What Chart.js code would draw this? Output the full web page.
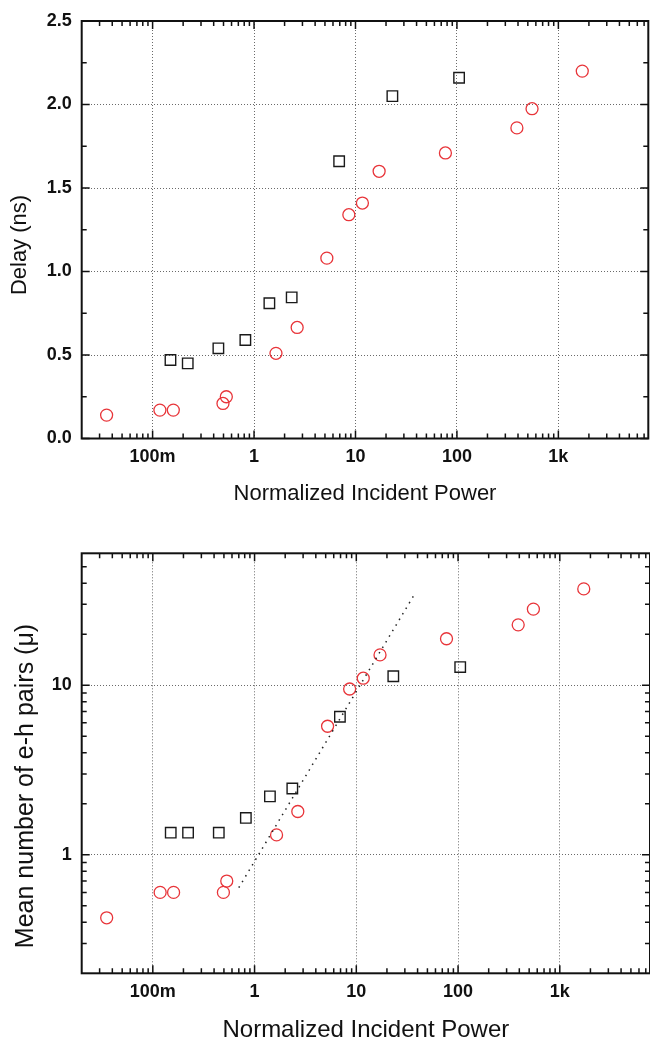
<!DOCTYPE html>
<html>
<head>
<meta charset="utf-8">
<script src="https://cdn.jsdelivr.net/npm/chart.js@4/dist/chart.umd.min.js"></script>
<style>
  html, body { margin: 0; padding: 0; background: #fff; overflow: hidden; }
  #wrap { position: relative; width: 650px; height: 1042px; }
  canvas { position: absolute; left: 0; }
  #delay { top: 0; }
  #pairs { top: 510px; }
</style>
</head>
<body>
<div id="wrap">
  <canvas id="delay" width="650" height="510"></canvas>
  <canvas id="pairs" width="650" height="532"></canvas>
</div>
<script>
// black open squares
const squarePower = [0.15, 0.222, 0.445, 0.821, 1.416, 2.35, 6.9, 23.1, 105];
const squareDelay = [0.47, 0.45, 0.54, 0.59, 0.81, 0.845, 1.66, 2.05, 2.16];
const squarePairs = [1.35, 1.35, 1.35, 1.65, 2.21, 2.46, 6.52, 11.3, 12.8];

// red open circles
const circlePower = [0.0352, 0.118, 0.16, 0.494, 0.533, 1.645, 2.66, 5.22, 8.6, 11.7, 17.1, 77, 390, 550, 1720];
const circleDelay = [0.14, 0.17, 0.17, 0.21, 0.25, 0.51, 0.665, 1.08, 1.34, 1.41, 1.6, 1.71, 1.86, 1.975, 2.2];
const circlePairs = [0.425, 0.6, 0.6, 0.6, 0.7, 1.31, 1.8, 5.73, 9.5, 11.0, 15.1, 18.8, 22.7, 28.1, 37.0];

// dotted guide in the lower panel
const fitPower = [0.7, 38];
const fitPairs = [0.64, 35];

// axes
const powerTicks = [0.1, 1, 10, 100, 1000];
const powerLabels = ['100m', '1', '10', '100', '1k'];
const delayTicks = [0, 0.5, 1, 1.5, 2, 2.5];
const pairsTicks = [1, 10];

Chart.defaults.font.family = '"Liberation Sans", Arial, Helvetica, sans-serif';
Chart.defaults.color = '#111';

const zip = (xs, ys) => xs.map((x, i) => ({ x, y: ys[i] }));

const logMinor = (min, max) => {
  const out = [];
  for (let d = Math.floor(Math.log10(min)); d <= Math.ceil(Math.log10(max)); d++) {
    for (let m = 2; m <= 9; m++) {
      const v = m * Math.pow(10, d);
      if (v > min && v < max) out.push(v);
    }
  }
  return out;
};

// frame + inward ticks on all four sides
const frame = {
  id: 'frame',
  afterDraw(chart) {
    const { ctx, chartArea: a, scales: { x, y } } = chart;
    const majorLen = 8;
    const minorLen = 5;
    const yMinor = y.type === 'logarithmic'
      ? logMinor(y.min, y.max)
      : [0.25, 0.75, 1.25, 1.75, 2.25];
    ctx.save();
    ctx.strokeStyle = '#111';
    ctx.lineWidth = 1.5;
    ctx.beginPath();
    const xTick = (v, len) => {
      const px = x.getPixelForValue(v);
      ctx.moveTo(px, a.bottom); ctx.lineTo(px, a.bottom - len);
      ctx.moveTo(px, a.top); ctx.lineTo(px, a.top + len);
    };
    const yTick = (v, len) => {
      const py = y.getPixelForValue(v);
      ctx.moveTo(a.left, py); ctx.lineTo(a.left + len, py);
      ctx.moveTo(a.right, py); ctx.lineTo(a.right - len, py);
    };
    x.ticks.forEach(t => xTick(t.value, majorLen));
    logMinor(x.min, x.max).forEach(v => xTick(v, minorLen));
    y.ticks.forEach(t => yTick(t.value, majorLen));
    yMinor.forEach(v => yTick(v, minorLen));
    ctx.stroke();
    ctx.lineWidth = 2;
    ctx.strokeRect(a.left, a.top, a.right - a.left, a.bottom - a.top);
    ctx.restore();
  },
};

// rotated y title, placed by hand like the original
const sideTitle = {
  id: 'sideTitle',
  afterDraw(chart, args, o) {
    const { ctx } = chart;
    ctx.save();
    ctx.translate(o.x, o.y);
    ctx.rotate(-Math.PI / 2);
    ctx.font = `${o.size}px "Liberation Sans", Arial, sans-serif`;
    ctx.fillStyle = '#111';
    ctx.textAlign = 'center';
    ctx.textBaseline = 'middle';
    ctx.fillText(o.text, 0, 0);
    ctx.restore();
  },
};

const gridStyle = { color: '#6a6a6a', lineWidth: 1, drawTicks: false };
const borderStyle = { display: false, dash: [1, 2] };
const tickFont = { size: 18, weight: 'bold' };

const powerAxis = (height, titleSize, titleLine, titlePad) => ({
  type: 'logarithmic',
  min: 0.02,
  max: 7700,
  afterFit: s => { s.height = height; },
  afterBuildTicks: s => { s.ticks = powerTicks.map(value => ({ value })); },
  grid: gridStyle,
  border: borderStyle,
  ticks: {
    padding: 8,
    font: tickFont,
    maxRotation: 0,
    autoSkip: false,
    callback: (v, i) => powerLabels[i],
  },
  title: {
    display: true,
    text: 'Normalized Incident Power',
    font: { size: titleSize, lineHeight: titleLine },
    padding: { top: 0, bottom: titlePad },
  },
});

const squareSet = (ys) => ({
  data: zip(squarePower, ys),
  pointStyle: 'rect',
  pointRadius: 7.4,
  borderColor: '#1a1a1a',
  borderWidth: 1.4,
  backgroundColor: 'rgba(0,0,0,0)',
});

const circleSet = (ys) => ({
  data: zip(circlePower, ys),
  pointStyle: 'circle',
  pointRadius: 6,
  borderColor: '#e8353a',
  borderWidth: 1.3,
  backgroundColor: 'rgba(0,0,0,0)',
});

const common = {
  responsive: false,
  animation: false,
  events: [],
  plugins: { legend: { display: false }, tooltip: { enabled: false } },
};

new Chart(document.getElementById('delay'), {
  type: 'scatter',
  data: { datasets: [squareSet(squareDelay), circleSet(circleDelay)] },
  plugins: [frame, sideTitle],
  options: {
    ...common,
    // autoPadding would reserve room for the markers and squeeze the plot
    layout: { autoPadding: false, padding: { top: 21, right: 1.7, left: 0, bottom: 0 } },
    plugins: {
      ...common.plugins,
      sideTitle: { text: 'Delay (ns)', x: 20, y: 245, size: 22 },
    },
    scales: {
      x: powerAxis(71.5, 22, 1.2, 3),
      y: {
        type: 'linear',
        min: 0,
        max: 2.5,
        afterFit: s => { s.width = 81.7; },
        afterBuildTicks: s => { s.ticks = delayTicks.map(value => ({ value })); },
        grid: gridStyle,
        border: borderStyle,
        ticks: { padding: 10, font: tickFont, callback: v => v.toFixed(1) },
      },
    },
  },
});

new Chart(document.getElementById('pairs'), {
  type: 'scatter',
  data: {
    datasets: [
      {
        data: zip(fitPower, fitPairs),
        showLine: true,
        pointRadius: 0,
        borderColor: '#222',
        borderWidth: 1.5,
        borderDash: [1.5, 5],
      },
      squareSet(squarePairs),
      circleSet(circlePairs),
    ],
  },
  plugins: [frame, sideTitle],
  options: {
    ...common,
    layout: { autoPadding: false, padding: { top: 43.3, right: -1, left: 0, bottom: 0 } },
    plugins: {
      ...common.plugins,
      sideTitle: { text: 'Mean number of e-h pairs (\u03bc)', x: 26, y: 276, size: 25 },
    },
    scales: {
      x: powerAxis(68.7, 24, 1, 0),
      y: {
        type: 'logarithmic',
        min: 0.2,
        max: 60,
        afterFit: s => { s.width = 81.7; },
        afterBuildTicks: s => { s.ticks = pairsTicks.map(value => ({ value })); },
        grid: gridStyle,
        border: borderStyle,
        ticks: { padding: 10, font: tickFont, callback: v => String(v) },
      },
    },
  },
});
</script>
</body>
</html>
